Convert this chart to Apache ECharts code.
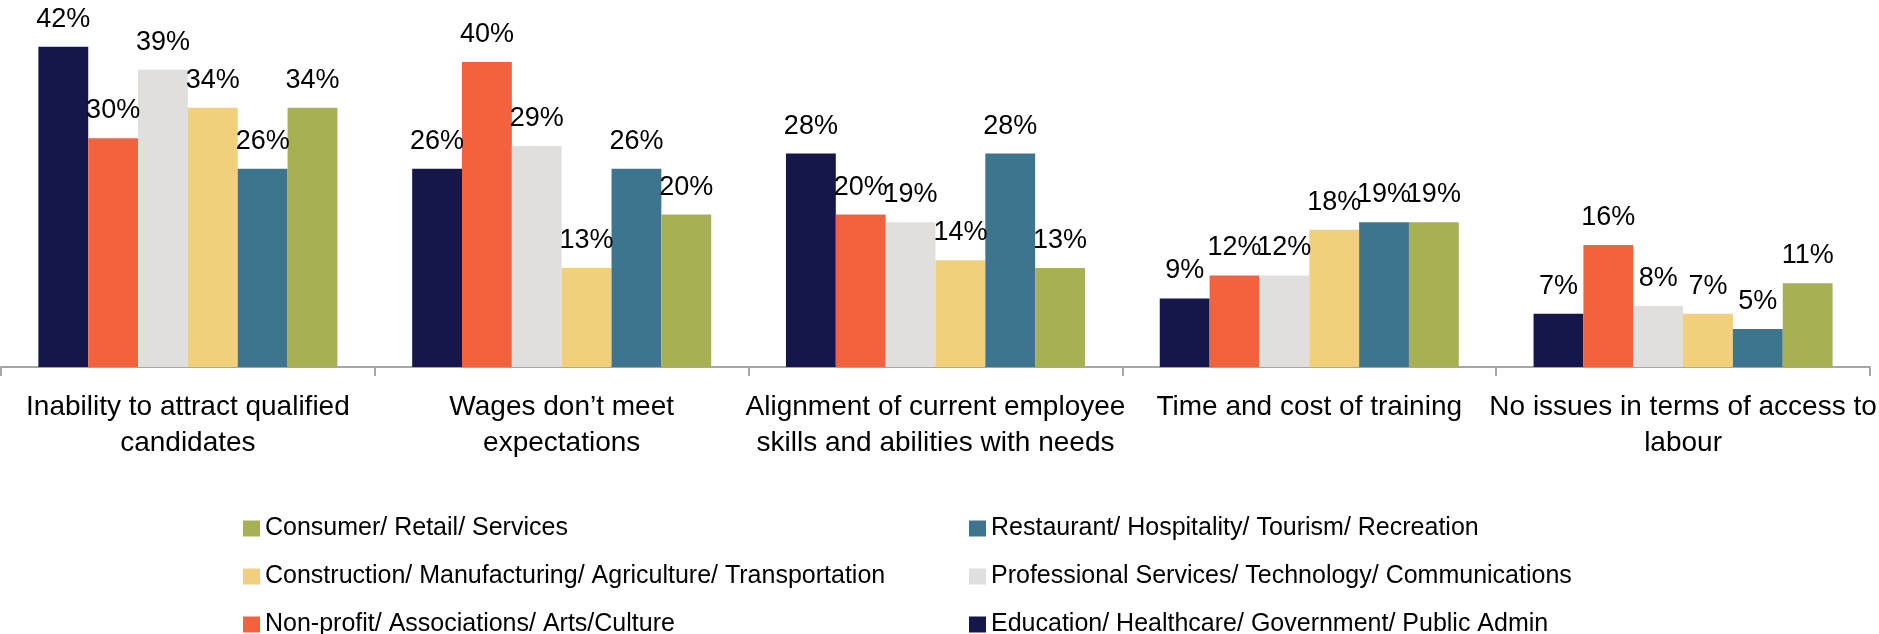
<!DOCTYPE html>
<html>
<head>
<meta charset="utf-8">
<style>
  html, body { margin: 0; padding: 0; background: #ffffff; }
  #chart { width: 1879px; height: 634px; }
</style>
<script src="https://cdn.jsdelivr.net/npm/echarts@6/dist/echarts.min.js"></script>
</head>
<body>
<div id="chart"></div>
<script>
// Labour access issues by sector (share of respondents, %)
const categories = [
  'Inability to attract qualified\ncandidates',
  'Wages don’t meet\nexpectations',
  'Alignment of current employee\nskills and abilities with needs',
  'Time and cost of training',
  'No issues in terms of access to\nlabour'
];

const educationHealthcare   = [42, 26, 28, 9, 7];
const nonProfitArts         = [30, 40, 20, 12, 16];
const professionalServices  = [39, 29, 19, 12, 8];
const constructionTransport = [34, 13, 14, 18, 7];
const restaurantTourism     = [26, 26, 28, 19, 5];
const consumerRetail        = [34, 20, 13, 19, 11];

const seriesNames = [
  'Education/ Healthcare/ Government/ Public Admin',
  'Non-profit/ Associations/ Arts/Culture',
  'Professional Services/ Technology/ Communications',
  'Construction/ Manufacturing/ Agriculture/ Transportation',
  'Restaurant/ Hospitality/ Tourism/ Recreation',
  'Consumer/ Retail/ Services'
];
const seriesValues = [
  educationHealthcare, nonProfitArts, professionalServices,
  constructionTransport, restaurantTourism, consumerRetail
];
const seriesColors = ['#15164A', '#F3623E', '#E0DFDE', '#F1CF7B', '#3D758F', '#A8B054'];

// Legend grid: two columns of three entries (series index per cell)
const legendColumns = [[5, 3, 1], [4, 2, 0]];

const FONT = "'Liberation Sans', Arial, sans-serif";

const chart = echarts.init(document.getElementById('chart'), null, { renderer: 'canvas' });

const LEGEND_LINE = 20;
const legendLeft = [243, 969];
const legendRowCenter = [526, 574, 622];

const legends = [];
legendColumns.forEach((col, c) => {
  col.forEach((si, r) => {
    legends.push({
      orient: 'horizontal',
      padding: 0,
      left: legendLeft[c],
      top: legendRowCenter[r] - LEGEND_LINE / 2,
      itemWidth: 17,
      itemHeight: 16,
      icon: 'rect',
      selectedMode: false,
      data: [seriesNames[si]],
      textStyle: { fontFamily: FONT, fontSize: 25, color: '#000000', lineHeight: LEGEND_LINE }
    });
  });
});

chart.setOption({
  animation: false,
  backgroundColor: '#ffffff',
  grid: { left: 1, right: 1, top: 24, bottom: 267, containLabel: false },
  legend: legends,
  xAxis: {
    type: 'category',
    data: categories,
    axisLine: { lineStyle: { color: '#A6A6A6', width: 2 } },
    axisTick: { show: true, length: 9, lineStyle: { color: '#A6A6A6', width: 2 } },
    axisLabel: {
      interval: 0,
      margin: 22,
      fontFamily: FONT,
      fontSize: 28,
      lineHeight: 36,
      color: '#000000',
      align: 'center'
    }
  },
  yAxis: {
    type: 'value',
    min: 0,
    max: 45,
    show: false,
    splitLine: { show: false }
  },
  series: seriesNames.map((name, i) => ({
    name: name,
    type: 'bar',
    data: seriesValues[i],
    barGap: '0%',
    barCategoryGap: '20%',
    itemStyle: { color: seriesColors[i] },
    label: {
      show: true,
      position: 'top',
      distance: 14,
      fontFamily: FONT,
      fontSize: 27,
      color: '#000000',
      formatter: p => p.value + '%'
    }
  }))
});
</script>
</body>
</html>
